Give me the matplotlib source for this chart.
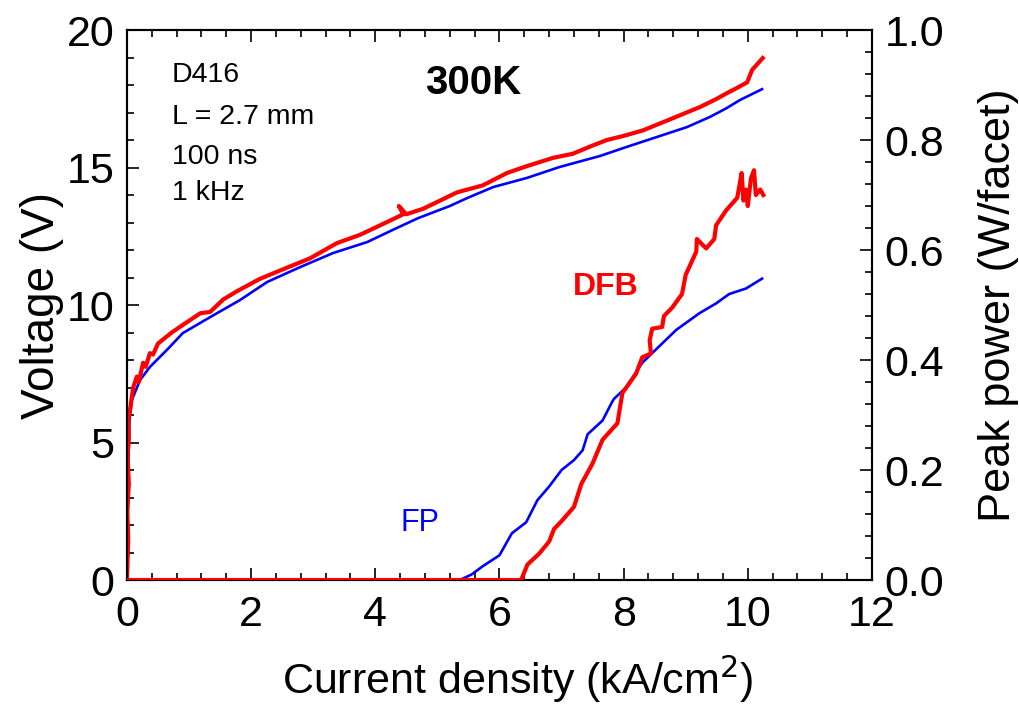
import matplotlib.pyplot as plt
from matplotlib.ticker import MultipleLocator

plt.rcParams["font.family"] = ["Liberation Sans", "DejaVu Sans"]

# current density (kA/cm^2) and voltage (V)
fp_v_j = [0, 0.01, 0.02, 0.04, 0.08, 0.21, 0.37, 0.64, 0.9, 1.34, 1.82, 2.26,
          2.79, 3.32, 3.87, 4.28, 4.69, 5.2, 5.48, 5.9, 6.44, 6.97, 7.62, 8.05,
          8.63, 9.02, 9.39, 9.66, 9.87, 10.23]
fp_v = [0, 2.0, 4.0, 5.8, 6.55, 7.27, 7.75, 8.36, 8.98, 9.56, 10.18, 10.84,
        11.38, 11.89, 12.29, 12.73, 13.16, 13.6, 13.89, 14.29, 14.62, 15.02,
        15.42, 15.75, 16.18, 16.47, 16.84, 17.16, 17.45, 17.85]

dfb_v_j = [0, 0.02, 0.005, 0.03, 0.01, 0.03, 0.02, 0.05, 0.1, 0.16, 0.19, 0.26,
           0.3, 0.37, 0.42, 0.5, 0.72, 0.85, 1.18, 1.34, 1.55, 1.77, 2.14, 2.46,
           2.95, 3.38, 3.75, 4.08, 4.45, 4.38, 4.5, 4.77, 5.32, 5.73, 6.12,
           6.44, 6.86, 7.18, 7.5, 7.73, 8.0, 8.31, 8.8, 9.23, 9.5, 9.66, 9.83,
           9.99, 10.07, 10.24]
dfb_v = [0, 1.5, 2.5, 3.5, 4.5, 5.2, 5.8, 6.2, 7.0, 7.4, 7.2, 7.9,
         7.75, 8.25, 8.2, 8.6, 9.0, 9.2, 9.7, 9.75, 10.2, 10.5, 10.95, 11.25,
         11.7, 12.25, 12.55, 12.9, 13.3, 13.6, 13.3, 13.5, 14.1, 14.35, 14.8,
         15.05, 15.35, 15.5, 15.8, 16.0, 16.15, 16.35, 16.8, 17.2, 17.5, 17.7,
         17.9, 18.1, 18.55, 18.98]

# current density (kA/cm^2) and peak power (W/facet)
fp_p_j = [0, 5.36, 5.55, 5.73, 6.0, 6.2, 6.43, 6.61, 6.8, 7.0, 7.2, 7.34, 7.42,
          7.66, 7.82, 7.85, 8.04, 8.3, 8.62, 8.85, 9.22, 9.49, 9.7, 9.97, 10.23]
fp_p = [0, 0, 0.01, 0.025, 0.045, 0.085, 0.105, 0.145, 0.17, 0.2, 0.218,
        0.236, 0.265, 0.29, 0.325, 0.33, 0.35, 0.395, 0.43, 0.455, 0.485,
        0.503, 0.52, 0.53, 0.548]

dfb_p_j = [0, 6.35, 6.45, 6.64, 6.8, 6.88, 7.0, 7.2, 7.32, 7.5, 7.66, 7.9,
           7.98, 8.2, 8.3, 8.44, 8.42, 8.46, 8.62, 8.65, 8.78, 8.94, 9.0, 9.17,
           9.18, 9.33, 9.46, 9.49, 9.65, 9.83, 9.87, 9.9, 9.93, 9.97, 10.0,
           10.05, 10.1, 10.13, 10.2, 10.25]
dfb_p = [0, 0, 0.028, 0.048, 0.07, 0.093, 0.107, 0.133, 0.175, 0.212, 0.255,
         0.285, 0.34, 0.375, 0.405, 0.412, 0.436, 0.457, 0.46, 0.48, 0.495,
         0.52, 0.555, 0.597, 0.62, 0.603, 0.62, 0.645, 0.672, 0.695, 0.72,
         0.74, 0.69, 0.71, 0.68, 0.73, 0.745, 0.70, 0.71, 0.70]

blue = "#0000ff"
red = "#ff0000"

fig = plt.figure(figsize=(10.19, 7.04), dpi=100)
ax = fig.add_axes([0.1246, 0.1761, 0.7311, 0.78125])
ax2 = ax.twinx()

ax.plot(fp_v_j, fp_v, color=blue, lw=1.9, zorder=3)
ax.plot(dfb_v_j, dfb_v, color=red, lw=3.0, zorder=4)
ax2.plot(fp_p_j, fp_p, color=blue, lw=1.9, zorder=3)
ax2.plot(dfb_p_j, dfb_p, color=red, lw=3.0, zorder=4)

ax.set_xlim(0, 12)
ax.set_ylim(0, 20)
ax2.set_ylim(0, 1.0)

ax.xaxis.set_major_locator(MultipleLocator(2))
ax.xaxis.set_minor_locator(MultipleLocator(0.4))
ax.yaxis.set_major_locator(MultipleLocator(5))
ax.yaxis.set_minor_locator(MultipleLocator(1))
ax2.yaxis.set_major_locator(MultipleLocator(0.2))
ax2.yaxis.set_minor_locator(MultipleLocator(0.04))
ax2.set_yticks([0, 0.2, 0.4, 0.6, 0.8, 1.0])
ax2.set_yticklabels(["0.0", "0.2", "0.4", "0.6", "0.8", "1.0"])

ax.tick_params(axis="x", which="both", direction="in", top=True, bottom=True)
ax.tick_params(axis="y", which="both", direction="in", left=True, right=False)
ax2.tick_params(axis="y", which="both", direction="in", right=True)
for a in (ax, ax2):
    a.tick_params(which="major", length=8.5, width=1.2, labelsize=31)
    a.tick_params(which="minor", length=5, width=1.2)
    for s in a.spines.values():
        s.set_linewidth(1.5)
ax.tick_params(axis="x", pad=11)
ax.tick_params(axis="y", pad=9)
ax2.tick_params(axis="y", pad=9)

ax.set_xlabel("Current density (kA/cm$^2$)", fontsize=31, labelpad=13)
ax.xaxis.label.set_x(0.525)
ax.set_ylabel("Voltage (V)", fontsize=33, labelpad=2)
ax2.set_ylabel("Peak power (W/facet)", fontsize=32.5, labelpad=24)

ax.text(0.72, 18.36, "D416", fontsize=20.5, va="center")
ax.text(0.72, 16.84, "L = 2.7 mm", fontsize=20.5, va="center")
ax.text(0.72, 15.38, "100 ns", fontsize=20.5, va="center")
ax.text(0.72, 14.07, "1 kHz", fontsize=20.5, va="center")
ax.text(5.57, 18.07, "300K", fontsize=29, fontweight="bold", ha="center", va="center")
ax.text(7.18, 10.65, "DFB", fontsize=23, fontweight="bold", color=red, va="center")
ax.text(4.4, 2.07, "FP", fontsize=22, color=blue, va="center")

fig.savefig("out.png", dpi=100)
